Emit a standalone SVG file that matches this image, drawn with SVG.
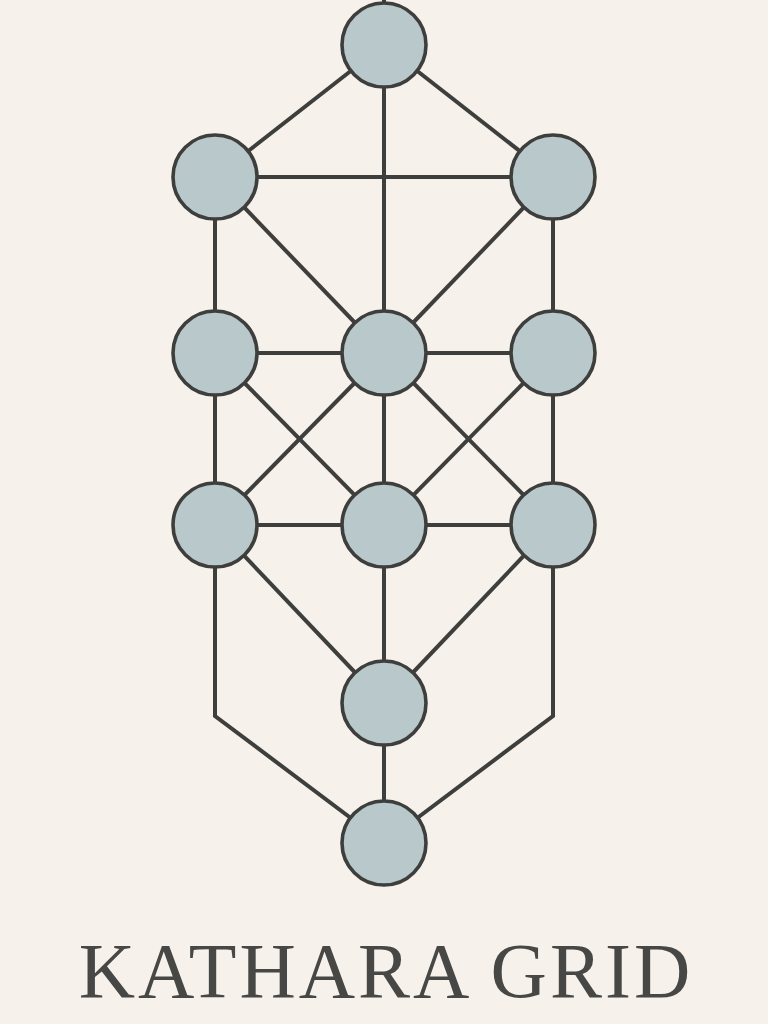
<svg xmlns="http://www.w3.org/2000/svg" width="768" height="1024" viewBox="0 0 768 1024">
<style>
.e{stroke:#3e3f3c;stroke-width:4;fill:none;stroke-linejoin:miter}
.n{fill:#b8c8cb;stroke:#3e3f3c;stroke-width:3.6}
.t{font-family:"Liberation Serif","DejaVu Serif",serif;font-size:78px;fill:#474845;letter-spacing:3px}
</style>
<rect width="768" height="1024" fill="#f6f1eb"/>
<g id="connectors">
<line class="e" x1="384" y1="0" x2="384" y2="45"/>
<line class="e" x1="384" y1="45" x2="215" y2="177"/>
<line class="e" x1="384" y1="45" x2="553" y2="177"/>
<line class="e" x1="384" y1="45" x2="384" y2="353"/>
<line class="e" x1="215" y1="177" x2="553" y2="177"/>
<line class="e" x1="215" y1="177" x2="384" y2="353"/>
<line class="e" x1="553" y1="177" x2="384" y2="353"/>
<line class="e" x1="215" y1="177" x2="215" y2="353"/>
<line class="e" x1="553" y1="177" x2="553" y2="353"/>
<line class="e" x1="215" y1="353" x2="553" y2="353"/>
<line class="e" x1="215" y1="353" x2="215" y2="525"/>
<line class="e" x1="384" y1="353" x2="384" y2="525"/>
<line class="e" x1="553" y1="353" x2="553" y2="525"/>
<line class="e" x1="215" y1="353" x2="384" y2="525"/>
<line class="e" x1="384" y1="353" x2="215" y2="525"/>
<line class="e" x1="384" y1="353" x2="553" y2="525"/>
<line class="e" x1="553" y1="353" x2="384" y2="525"/>
<line class="e" x1="215" y1="525" x2="553" y2="525"/>
<line class="e" x1="215" y1="525" x2="384" y2="703"/>
<line class="e" x1="553" y1="525" x2="384" y2="703"/>
<line class="e" x1="384" y1="525" x2="384" y2="843"/>
<polyline class="e" points="215,525 215,716 384,843"/>
<polyline class="e" points="553,525 553,716 384,843"/>
</g>
<g id="n1"><circle class="n" cx="384" cy="45" r="42"/></g>
<g id="n2"><circle class="n" cx="215" cy="177" r="42"/></g>
<g id="n3"><circle class="n" cx="553" cy="177" r="42"/></g>
<g id="n4"><circle class="n" cx="215" cy="353" r="42"/></g>
<g id="n5"><circle class="n" cx="384" cy="353" r="42"/></g>
<g id="n6"><circle class="n" cx="553" cy="353" r="42"/></g>
<g id="n7"><circle class="n" cx="215" cy="525" r="42"/></g>
<g id="n8"><circle class="n" cx="384" cy="525" r="42"/></g>
<g id="n9"><circle class="n" cx="553" cy="525" r="42"/></g>
<g id="n10"><circle class="n" cx="384" cy="703" r="42"/></g>
<g id="n11"><circle class="n" cx="384" cy="843" r="42"/></g>
<g id="title"><text class="t" x="386" y="997" text-anchor="middle">KATHARA GRID</text></g>
</svg>
